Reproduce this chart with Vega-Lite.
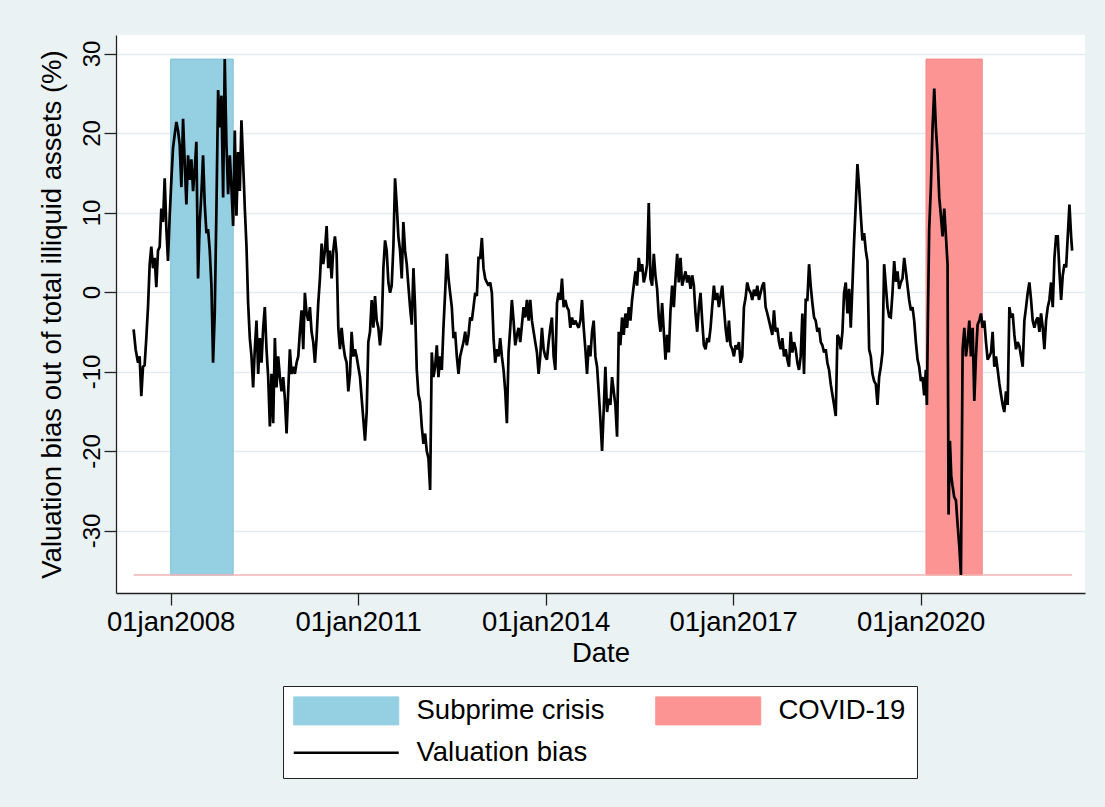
{
  "$schema": "https://vega.github.io/schema/vega-lite/v6.json",
  "autosize": {"type": "none"},
  "padding": {"left": 116, "top": 35, "right": 20, "bottom": 214},
  "width": 969,
  "height": 558,
  "background": "#eaf2f3",
  "config": {
    "font": "Liberation Sans",
    "view": {"fill": "white", "stroke": null}
  },
  "datasets": {
    "crises": [
      {"series": "Subprime crisis", "start": 2008.0, "end": 2009.0, "lo": -35.6, "hi": 29.3},
      {"series": "COVID-19", "start": 2020.085, "end": 2020.985, "lo": -35.6, "hi": 29.3}
    ],
    "bias": [
      {"t":2007.407,"v":-4.7},{"t":2007.439,"v":-7.2},{"t":2007.477,"v":-8.9},{"t":2007.503,"v":-8.1},{"t":2007.530,"v":-13.1},{"t":2007.557,"v":-9.4},{"t":2007.583,"v":-9.2},{"t":2007.610,"v":-5.8},{"t":2007.637,"v":-1.9},{"t":2007.664,"v":3.5},{"t":2007.690,"v":5.7},{"t":2007.717,"v":3.0},{"t":2007.744,"v":4.3},{"t":2007.770,"v":0.6},{"t":2007.797,"v":5.2},{"t":2007.824,"v":5.7},{"t":2007.850,"v":10.5},{"t":2007.877,"v":8.8},{"t":2007.904,"v":14.3},{"t":2007.931,"v":7.9},{"t":2007.957,"v":3.9},{"t":2007.984,"v":9.6},
      {"t":2008.011,"v":14.1},{"t":2008.037,"v":18.1},{"t":2008.064,"v":19.8},{"t":2008.091,"v":21.4},{"t":2008.118,"v":20.3},{"t":2008.144,"v":18.5},{"t":2008.171,"v":13.2},{"t":2008.198,"v":21.8},{"t":2008.224,"v":16.3},{"t":2008.251,"v":11.0},{"t":2008.278,"v":17.2},{"t":2008.305,"v":14.1},{"t":2008.331,"v":16.7},{"t":2008.358,"v":12.7},{"t":2008.385,"v":15.4},{"t":2008.411,"v":18.9},{"t":2008.438,"v":1.7},{"t":2008.465,"v":8.8},{"t":2008.491,"v":12.3},{"t":2008.518,"v":17.2},{"t":2008.545,"v":11.0},{"t":2008.572,"v":7.4},{"t":2008.598,"v":7.9},{"t":2008.625,"v":5.2},{"t":2008.652,"v":0.8},{"t":2008.678,"v":-8.9},{"t":2008.705,"v":-2.7},{"t":2008.732,"v":10.5},{"t":2008.759,"v":25.4},{"t":2008.785,"v":20.7},{"t":2008.812,"v":24.7},{"t":2008.839,"v":11.9},{"t":2008.865,"v":29.3},{"t":2008.892,"v":18.5},{"t":2008.919,"v":12.3},{"t":2008.946,"v":17.2},{"t":2008.972,"v":13.2},{"t":2008.999,"v":8.3},
      {"t":2009.026,"v":20.3},{"t":2009.052,"v":9.6},{"t":2009.079,"v":17.6},{"t":2009.106,"v":12.7},{"t":2009.132,"v":21.6},{"t":2009.159,"v":16.3},{"t":2009.186,"v":10.5},{"t":2009.213,"v":5.7},{"t":2009.239,"v":-1.4},{"t":2009.266,"v":-5.8},{"t":2009.293,"v":-8.1},{"t":2009.319,"v":-12.0},{"t":2009.346,"v":-7.2},{"t":2009.373,"v":-3.6},{"t":2009.400,"v":-10.3},{"t":2009.426,"v":-5.8},{"t":2009.453,"v":-8.9},{"t":2009.480,"v":-4.5},{"t":2009.506,"v":-1.9},{"t":2009.533,"v":-7.2},{"t":2009.560,"v":-10.7},{"t":2009.587,"v":-16.9},{"t":2009.613,"v":-10.3},{"t":2009.640,"v":-16.5},{"t":2009.667,"v":-5.8},{"t":2009.693,"v":-12.0},{"t":2009.720,"v":-8.1},{"t":2009.747,"v":-10.7},{"t":2009.774,"v":-12.5},{"t":2009.800,"v":-10.7},{"t":2009.827,"v":-13.4},{"t":2009.854,"v":-17.8},
      {"t":2009.907,"v":-7.2},{"t":2009.934,"v":-10.3},{"t":2009.960,"v":-9.4},{"t":2009.987,"v":-10.3},{"t":2010.014,"v":-8.9},{"t":2010.041,"v":-8.1},{"t":2010.067,"v":-5.0},{"t":2010.094,"v":-2.3},{"t":2010.121,"v":-7.2},{"t":2010.147,"v":-0.1},{"t":2010.174,"v":-2.7},{"t":2010.201,"v":-3.6},{"t":2010.228,"v":-1.9},{"t":2010.254,"v":-5.0},{"t":2010.281,"v":-6.3},{"t":2010.308,"v":-8.9},{"t":2010.334,"v":-5.8},{"t":2010.361,"v":-1.4},{"t":2010.388,"v":1.7},{"t":2010.415,"v":6.1},{"t":2010.441,"v":3.5},{"t":2010.468,"v":5.2},{"t":2010.495,"v":8.3},{"t":2010.521,"v":3.0},{"t":2010.548,"v":5.2},{"t":2010.575,"v":1.7},{"t":2010.601,"v":5.2},{"t":2010.628,"v":7.0},{"t":2010.655,"v":4.8},{"t":2010.682,"v":-4.5},{"t":2010.708,"v":-7.2},{"t":2010.735,"v":-4.5},{"t":2010.762,"v":-6.7},{"t":2010.788,"v":-8.1},{"t":2010.815,"v":-8.9},{"t":2010.842,"v":-12.5},{"t":2010.869,"v":-10.3},{"t":2010.895,"v":-5.0},{"t":2010.922,"v":-8.1},{"t":2010.949,"v":-7.2},{"t":2010.975,"v":-8.1},
      {"t":2011.002,"v":-9.4},{"t":2011.029,"v":-10.7},{"t":2011.056,"v":-13.4},{"t":2011.082,"v":-16.0},{"t":2011.109,"v":-18.7},{"t":2011.136,"v":-15.1},{"t":2011.162,"v":-6.3},{"t":2011.189,"v":-5.0},{"t":2011.216,"v":-1.0},{"t":2011.243,"v":-4.5},{"t":2011.269,"v":-0.5},{"t":2011.296,"v":-3.6},{"t":2011.323,"v":-4.5},{"t":2011.349,"v":-6.7},{"t":2011.376,"v":-4.5},{"t":2011.403,"v":3.0},{"t":2011.430,"v":6.5},{"t":2011.456,"v":5.2},{"t":2011.483,"v":1.2},{"t":2011.510,"v":-0.1},{"t":2011.536,"v":0.8},{"t":2011.563,"v":5.7},{"t":2011.590,"v":14.3},{"t":2011.616,"v":11.0},{"t":2011.643,"v":7.0},{"t":2011.670,"v":5.2},{"t":2011.697,"v":1.7},{"t":2011.723,"v":8.8},{"t":2011.750,"v":5.2},{"t":2011.777,"v":3.5},{"t":2011.803,"v":0.8},{"t":2011.830,"v":-1.9},{"t":2011.857,"v":-4.1},{"t":2011.884,"v":3.0},{"t":2011.910,"v":-1.9},{"t":2011.937,"v":-9.7},{"t":2011.964,"v":-12.9},{"t":2011.990,"v":-13.8},
      {"t":2012.017,"v":-16.9},{"t":2012.044,"v":-19.1},{"t":2012.071,"v":-17.8},{"t":2012.097,"v":-20.0},{"t":2012.124,"v":-20.9},{"t":2012.151,"v":-24.9},{"t":2012.177,"v":-7.6},{"t":2012.204,"v":-10.7},{"t":2012.231,"v":-9.4},{"t":2012.258,"v":-6.7},{"t":2012.284,"v":-10.7},{"t":2012.311,"v":-8.1},{"t":2012.338,"v":-9.8},{"t":2012.364,"v":-4.5},{"t":2012.391,"v":-0.1},{"t":2012.418,"v":4.8},{"t":2012.445,"v":1.7},{"t":2012.471,"v":-0.1},{"t":2012.498,"v":-1.9},{"t":2012.525,"v":-5.8},{"t":2012.551,"v":-5.0},{"t":2012.578,"v":-8.1},{"t":2012.605,"v":-10.3},{"t":2012.631,"v":-8.1},{"t":2012.658,"v":-7.2},{"t":2012.685,"v":-6.3},{"t":2012.712,"v":-5.0},{"t":2012.738,"v":-6.7},{"t":2012.765,"v":-5.4},{"t":2012.792,"v":-3.2},{"t":2012.818,"v":-3.6},{"t":2012.845,"v":-1.9},{"t":2012.872,"v":-0.1},{"t":2012.899,"v":-0.5},{"t":2012.925,"v":4.3},{"t":2012.952,"v":4.3},{"t":2012.979,"v":6.8},
      {"t":2013.005,"v":3.0},{"t":2013.032,"v":1.7},{"t":2013.059,"v":1.2},{"t":2013.086,"v":0.8},{"t":2013.112,"v":1.2},{"t":2013.139,"v":-0.1},{"t":2013.166,"v":-5.8},{"t":2013.192,"v":-8.9},{"t":2013.219,"v":-7.2},{"t":2013.246,"v":-8.1},{"t":2013.272,"v":-5.8},{"t":2013.299,"v":-8.1},{"t":2013.326,"v":-9.8},{"t":2013.353,"v":-12.5},{"t":2013.379,"v":-16.5},{"t":2013.406,"v":-7.6},{"t":2013.433,"v":-4.5},{"t":2013.459,"v":-1.0},{"t":2013.486,"v":-3.6},{"t":2013.513,"v":-6.7},{"t":2013.540,"v":-5.4},{"t":2013.566,"v":-4.5},{"t":2013.593,"v":-6.3},{"t":2013.620,"v":-4.1},{"t":2013.646,"v":-1.9},{"t":2013.673,"v":-3.2},{"t":2013.700,"v":-1.0},{"t":2013.727,"v":-3.6},{"t":2013.753,"v":-1.0},{"t":2013.780,"v":-3.6},{"t":2013.807,"v":-5.0},{"t":2013.833,"v":-6.3},{"t":2013.860,"v":-7.6},{"t":2013.887,"v":-10.3},{"t":2013.913,"v":-8.1},{"t":2013.940,"v":-4.5},{"t":2013.967,"v":-7.2},{"t":2013.994,"v":-8.1},
      {"t":2014.020,"v":-8.5},{"t":2014.047,"v":-6.3},{"t":2014.074,"v":-4.5},{"t":2014.100,"v":-3.2},{"t":2014.127,"v":-8.1},{"t":2014.154,"v":-9.8},{"t":2014.181,"v":-1.4},{"t":2014.207,"v":-0.1},{"t":2014.234,"v":-1.0},{"t":2014.261,"v":1.7},{"t":2014.287,"v":-1.9},{"t":2014.314,"v":-1.0},{"t":2014.341,"v":-1.9},{"t":2014.368,"v":-2.3},{"t":2014.394,"v":-4.5},{"t":2014.421,"v":-3.2},{"t":2014.448,"v":-4.1},{"t":2014.474,"v":-3.6},{"t":2014.501,"v":-4.1},{"t":2014.528,"v":-4.5},{"t":2014.555,"v":-3.6},{"t":2014.581,"v":-1.0},{"t":2014.608,"v":-4.5},{"t":2014.635,"v":-7.2},{"t":2014.661,"v":-10.3},{"t":2014.688,"v":-6.7},{"t":2014.715,"v":-8.1},{"t":2014.742,"v":-5.0},{"t":2014.768,"v":-3.6},{"t":2014.795,"v":-8.1},{"t":2014.822,"v":-9.4},{"t":2014.848,"v":-12.5},{"t":2014.875,"v":-16.0},{"t":2014.902,"v":-20.0},{"t":2014.929,"v":-14.7},{"t":2014.955,"v":-9.4},{"t":2014.982,"v":-15.1},
      {"t":2015.009,"v":-13.4},{"t":2015.035,"v":-14.2},{"t":2015.062,"v":-10.7},{"t":2015.089,"v":-12.5},{"t":2015.115,"v":-14.2},{"t":2015.142,"v":-18.2},{"t":2015.169,"v":-5.0},{"t":2015.195,"v":-6.7},{"t":2015.222,"v":-3.2},{"t":2015.249,"v":-5.4},{"t":2015.276,"v":-2.7},{"t":2015.302,"v":-4.5},{"t":2015.329,"v":-1.9},{"t":2015.356,"v":-3.6},{"t":2015.382,"v":-1.0},{"t":2015.409,"v":0.8},{"t":2015.436,"v":2.6},{"t":2015.462,"v":0.8},{"t":2015.489,"v":4.3},{"t":2015.516,"v":2.6},{"t":2015.543,"v":3.5},{"t":2015.569,"v":1.2},{"t":2015.596,"v":2.1},{"t":2015.623,"v":3.5},{"t":2015.649,"v":11.2},{"t":2015.676,"v":1.7},{"t":2015.703,"v":0.8},{"t":2015.730,"v":4.8},{"t":2015.756,"v":2.1},{"t":2015.783,"v":0.4},{"t":2015.810,"v":-3.2},{"t":2015.836,"v":-5.0},{"t":2015.863,"v":-1.4},{"t":2015.890,"v":-5.0},{"t":2015.917,"v":-8.5},{"t":2015.943,"v":-5.4},{"t":2015.970,"v":-7.6},{"t":2015.997,"v":-2.3},
      {"t":2016.023,"v":0.8},{"t":2016.050,"v":-1.9},{"t":2016.077,"v":1.7},{"t":2016.104,"v":4.8},{"t":2016.130,"v":1.2},{"t":2016.157,"v":4.3},{"t":2016.184,"v":0.8},{"t":2016.210,"v":1.7},{"t":2016.237,"v":2.6},{"t":2016.264,"v":1.2},{"t":2016.290,"v":2.1},{"t":2016.317,"v":0.4},{"t":2016.344,"v":2.1},{"t":2016.371,"v":0.8},{"t":2016.397,"v":-2.7},{"t":2016.424,"v":-5.0},{"t":2016.451,"v":-1.9},{"t":2016.477,"v":-0.1},{"t":2016.504,"v":-3.6},{"t":2016.531,"v":-6.7},{"t":2016.558,"v":-7.2},{"t":2016.584,"v":-5.8},{"t":2016.611,"v":-6.3},{"t":2016.638,"v":-4.5},{"t":2016.664,"v":-1.9},{"t":2016.691,"v":0.8},{"t":2016.718,"v":-1.0},{"t":2016.745,"v":-0.1},{"t":2016.771,"v":-1.9},{"t":2016.798,"v":-0.5},{"t":2016.825,"v":0.8},{"t":2016.851,"v":-1.9},{"t":2016.878,"v":-4.5},{"t":2016.905,"v":-6.3},{"t":2016.932,"v":-3.6},{"t":2016.958,"v":-6.7},{"t":2016.985,"v":-7.2},
      {"t":2017.012,"v":-8.1},{"t":2017.038,"v":-6.7},{"t":2017.065,"v":-7.2},{"t":2017.092,"v":-6.3},{"t":2017.118,"v":-8.9},{"t":2017.145,"v":-8.1},{"t":2017.172,"v":-1.9},{"t":2017.199,"v":-0.7},{"t":2017.225,"v":1.2},{"t":2017.252,"v":0.3},{"t":2017.279,"v":-0.1},{"t":2017.305,"v":-1.0},{"t":2017.332,"v":0.3},{"t":2017.359,"v":-0.5},{"t":2017.386,"v":0.8},{"t":2017.412,"v":-1.0},{"t":2017.439,"v":-0.1},{"t":2017.466,"v":0.8},{"t":2017.492,"v":1.2},{"t":2017.519,"v":-1.9},{"t":2017.546,"v":-2.7},{"t":2017.573,"v":-3.6},{"t":2017.599,"v":-4.5},{"t":2017.626,"v":-5.4},{"t":2017.653,"v":-2.3},{"t":2017.679,"v":-5.0},{"t":2017.706,"v":-4.5},{"t":2017.733,"v":-6.3},{"t":2017.759,"v":-7.2},{"t":2017.786,"v":-5.8},{"t":2017.813,"v":-8.1},{"t":2017.840,"v":-7.2},{"t":2017.866,"v":-8.5},{"t":2017.893,"v":-9.4},{"t":2017.920,"v":-5.0},{"t":2017.946,"v":-7.6},{"t":2017.973,"v":-6.3},
      {"t":2018.000,"v":-7.2},{"t":2018.027,"v":-8.9},{"t":2018.053,"v":-9.8},{"t":2018.080,"v":-8.1},{"t":2018.107,"v":-2.7},{"t":2018.133,"v":-10.3},{"t":2018.160,"v":-1.0},{"t":2018.187,"v":-1.0},{"t":2018.214,"v":3.5},{"t":2018.240,"v":0.8},{"t":2018.267,"v":-1.4},{"t":2018.294,"v":-3.2},{"t":2018.320,"v":-3.6},{"t":2018.347,"v":-5.0},{"t":2018.374,"v":-4.5},{"t":2018.401,"v":-6.3},{"t":2018.427,"v":-6.7},{"t":2018.454,"v":-7.6},{"t":2018.481,"v":-7.2},{"t":2018.507,"v":-8.9},{"t":2018.534,"v":-9.8},{"t":2018.561,"v":-11.6},{"t":2018.587,"v":-12.9},{"t":2018.614,"v":-14.2},{"t":2018.641,"v":-15.6},{"t":2018.668,"v":-5.4},{"t":2018.694,"v":-5.8},{"t":2018.721,"v":-7.2},{"t":2018.748,"v":-5.0},{"t":2018.774,"v":-0.1},{"t":2018.801,"v":1.2},{"t":2018.828,"v":-2.7},{"t":2018.855,"v":0.4},{"t":2018.881,"v":-4.5},{"t":2018.908,"v":0.8},{"t":2018.935,"v":6.5},{"t":2018.961,"v":11.0},{"t":2018.988,"v":16.1},
      {"t":2019.015,"v":13.2},{"t":2019.042,"v":9.6},{"t":2019.068,"v":6.5},{"t":2019.095,"v":7.4},{"t":2019.122,"v":5.2},{"t":2019.148,"v":3.9},{"t":2019.175,"v":-7.2},{"t":2019.202,"v":-8.1},{"t":2019.228,"v":-10.3},{"t":2019.255,"v":-11.2},{"t":2019.282,"v":-11.6},{"t":2019.309,"v":-14.2},{"t":2019.335,"v":-10.7},{"t":2019.362,"v":-9.4},{"t":2019.389,"v":-7.6},{"t":2019.415,"v":3.5},{"t":2019.442,"v":0.8},{"t":2019.469,"v":-1.9},{"t":2019.496,"v":-3.1},{"t":2019.522,"v":-3.2},{"t":2019.549,"v":-0.1},{"t":2019.576,"v":3.9},{"t":2019.602,"v":1.3},{"t":2019.629,"v":2.6},{"t":2019.656,"v":0.4},{"t":2019.682,"v":1.2},{"t":2019.709,"v":1.7},{"t":2019.736,"v":4.3},{"t":2019.763,"v":2.6},{"t":2019.789,"v":0.8},{"t":2019.816,"v":-1.0},{"t":2019.843,"v":-2.3},{"t":2019.869,"v":-1.9},{"t":2019.896,"v":-3.6},{"t":2019.923,"v":-6.3},{"t":2019.950,"v":-8.5},{"t":2019.976,"v":-9.4},
      {"t":2020.003,"v":-11.2},{"t":2020.030,"v":-10.7},{"t":2020.056,"v":-13.0},{"t":2020.083,"v":-9.8},{"t":2020.099,"v":-14.2},{"t":2020.115,"v":-3.6},{"t":2020.136,"v":7.9},{"t":2020.163,"v":13.2},{"t":2020.190,"v":20.7},{"t":2020.217,"v":25.6},{"t":2020.243,"v":20.7},{"t":2020.270,"v":17.2},{"t":2020.297,"v":11.9},{"t":2020.323,"v":9.6},{"t":2020.350,"v":7.0},{"t":2020.377,"v":10.5},{"t":2020.404,"v":7.0},{"t":2020.430,"v":3.5},{"t":2020.446,"v":-28.0},{"t":2020.468,"v":-18.7},{"t":2020.489,"v":-23.1},{"t":2020.510,"v":-24.4},{"t":2020.537,"v":-25.8},{"t":2020.564,"v":-26.2},{"t":2020.591,"v":-29.3},{"t":2020.617,"v":-31.9},{"t":2020.644,"v":-35.6},{"t":2020.671,"v":-7.2},{"t":2020.698,"v":-4.5},{"t":2020.724,"v":-8.1},{"t":2020.751,"v":-6.3},{"t":2020.778,"v":-3.6},{"t":2020.804,"v":-8.1},{"t":2020.831,"v":-4.5},{"t":2020.858,"v":-13.7},{"t":2020.884,"v":-8.1},{"t":2020.911,"v":-4.1},{"t":2020.938,"v":-3.6},{"t":2020.965,"v":-2.7},{"t":2020.991,"v":-4.5},
      {"t":2021.018,"v":-3.6},{"t":2021.045,"v":-6.3},{"t":2021.071,"v":-8.5},{"t":2021.098,"v":-8.1},{"t":2021.125,"v":-7.6},{"t":2021.151,"v":-5.0},{"t":2021.178,"v":-9.4},{"t":2021.205,"v":-8.1},{"t":2021.232,"v":-9.8},{"t":2021.258,"v":-11.5},{"t":2021.285,"v":-12.9},{"t":2021.312,"v":-14.2},{"t":2021.338,"v":-15.1},{"t":2021.365,"v":-12.5},{"t":2021.392,"v":-14.2},{"t":2021.419,"v":-1.9},{"t":2021.445,"v":-3.2},{"t":2021.472,"v":-2.7},{"t":2021.499,"v":-5.4},{"t":2021.525,"v":-7.2},{"t":2021.552,"v":-6.3},{"t":2021.579,"v":-6.8},{"t":2021.606,"v":-8.1},{"t":2021.632,"v":-9.4},{"t":2021.659,"v":-3.6},{"t":2021.686,"v":-1.9},{"t":2021.712,"v":-0.1},{"t":2021.739,"v":1.2},{"t":2021.766,"v":-1.0},{"t":2021.792,"v":-3.6},{"t":2021.819,"v":-4.5},{"t":2021.846,"v":-3.6},{"t":2021.873,"v":-3.2},{"t":2021.899,"v":-5.0},{"t":2021.926,"v":-2.7},{"t":2021.953,"v":-4.5},{"t":2021.979,"v":-7.2},
      {"t":2022.006,"v":-3.6},{"t":2022.033,"v":-1.9},{"t":2022.059,"v":-1.0},{"t":2022.086,"v":1.2},{"t":2022.113,"v":-1.9},{"t":2022.140,"v":4.3},{"t":2022.166,"v":7.0},{"t":2022.193,"v":7.0},{"t":2022.220,"v":2.6},{"t":2022.247,"v":-1.0},{"t":2022.273,"v":2.1},{"t":2022.300,"v":3.5},{"t":2022.327,"v":3.1},{"t":2022.353,"v":7.0},{"t":2022.380,"v":11.0},{"t":2022.407,"v":7.0},{"t":2022.423,"v":5.2}
    ]
  },
  "layer": [
    {
      "data": {"name": "crises"},
      "mark": {"type": "rect", "strokeWidth": 1},
      "encoding": {
        "x": {
          "field": "start", "type": "quantitative", "title": "Date",
          "scale": {"domain": [2007.125, 2022.629], "nice": false, "zero": false},
          "axis": {
            "values": [2008, 2011, 2014, 2017, 2020],
            "labelExpr": "'01jan' + datum.value",
            "grid": false,
            "labelFontSize": 27.5, "labelColor": "#000000", "labelPadding": 3, "labelFlush": false,
            "tickSize": 12, "tickColor": "#222222", "tickWidth": 1.3,
            "domainColor": "#222222", "domainWidth": 1.3,
            "titleFontSize": 27.5, "titleFontWeight": "normal", "titleColor": "#000000", "titlePadding": 4
          }
        },
        "x2": {"field": "end"},
        "y": {
          "field": "lo", "type": "quantitative",
          "title": "Valuation bias out of total illiquid assets (%)",
          "scale": {"domain": [-37.86, 32.33], "nice": false, "zero": false},
          "axis": {
            "values": [-30, -20, -10, 0, 10, 20, 30],
            "labelExpr": "'' + datum.value",
            "labelAngle": 270, "labelAlign": "center", "labelBaseline": "alphabetic",
            "labelFontSize": 24, "labelColor": "#000000", "labelPadding": 5,
            "tickSize": 12, "tickColor": "#222222", "tickWidth": 1.3,
            "domainColor": "#222222", "domainWidth": 1.3,
            "grid": true, "gridColor": "#e3ecee", "gridWidth": 1.5,
            "titleFontSize": 27.5, "titleFontWeight": "normal", "titleColor": "#000000", "titlePadding": 14
          }
        },
        "y2": {"field": "hi"},
        "color": {
          "field": "series", "type": "nominal",
          "scale": {
            "domain": ["Subprime crisis", "COVID-19", "Valuation bias"],
            "range": ["#94cfe2", "#fd9494", "#000000"]
          },
          "legend": {
            "title": null,
            "orient": "none",
            "legendX": 167,
            "legendY": 651,
            "columns": 2,
            "direction": "horizontal",
            "columnPadding": 48,
            "rowPadding": 11,
            "padding": 11,
            "fillColor": "#ffffff",
            "strokeColor": "#222222",
            "labelFontSize": 27.5,
            "labelColor": "#000000",
            "labelOffset": 95,
            "labelLimit": 400,
            "symbolSize": 784,
            "symbolType": "M-1,-1H6.5V1H-1Z",
            "symbolOffset": 0,
            "encode": {
              "symbols": {
                "update": {
                  "shape": {"signal": "datum.value === 'Valuation bias' ? 'M-1,0H6.5' : 'M-1,-1H6.5V1H-1Z'"},
                  "fill": {"signal": "datum.value === 'Valuation bias' ? 'transparent' : (datum.value === 'COVID-19' ? '#fd9494' : '#94cfe2')"},
                  "stroke": {"signal": "datum.value === 'Valuation bias' ? '#000000' : (datum.value === 'COVID-19' ? '#f08888' : '#84c2d8')"},
                  "strokeWidth": {"signal": "datum.value === 'Valuation bias' ? 2.4 : 1"},
                  "opacity": {"value": 1},
                  "fillOpacity": {"value": 1},
                  "strokeOpacity": {"value": 1}
                }
              }
            }
          }
        },
        "stroke": {
          "field": "series", "type": "nominal",
          "scale": {"domain": ["Subprime crisis", "COVID-19"], "range": ["#84c2d8", "#f08888"]},
          "legend": null
        }
      }
    },
    {
      "data": {"name": "bias"},
      "mark": {"type": "rule", "color": "#f4b3b3", "strokeWidth": 1.5},
      "encoding": {
        "x": {"aggregate": "min", "field": "t", "type": "quantitative", "title": "Date"},
        "x2": {"aggregate": "max", "field": "t"},
        "y": {"aggregate": "min", "field": "v", "type": "quantitative", "title": "Valuation bias out of total illiquid assets (%)"}
      }
    },
    {
      "data": {"name": "bias"},
      "mark": {"type": "line", "strokeWidth": 2.7, "strokeJoin": "miter", "strokeMiterLimit": 2},
      "encoding": {
        "x": {"field": "t", "type": "quantitative", "title": "Date"},
        "y": {"field": "v", "type": "quantitative", "title": "Valuation bias out of total illiquid assets (%)"},
        "color": {"datum": "Valuation bias", "type": "nominal"}
      }
    }
  ]
}
